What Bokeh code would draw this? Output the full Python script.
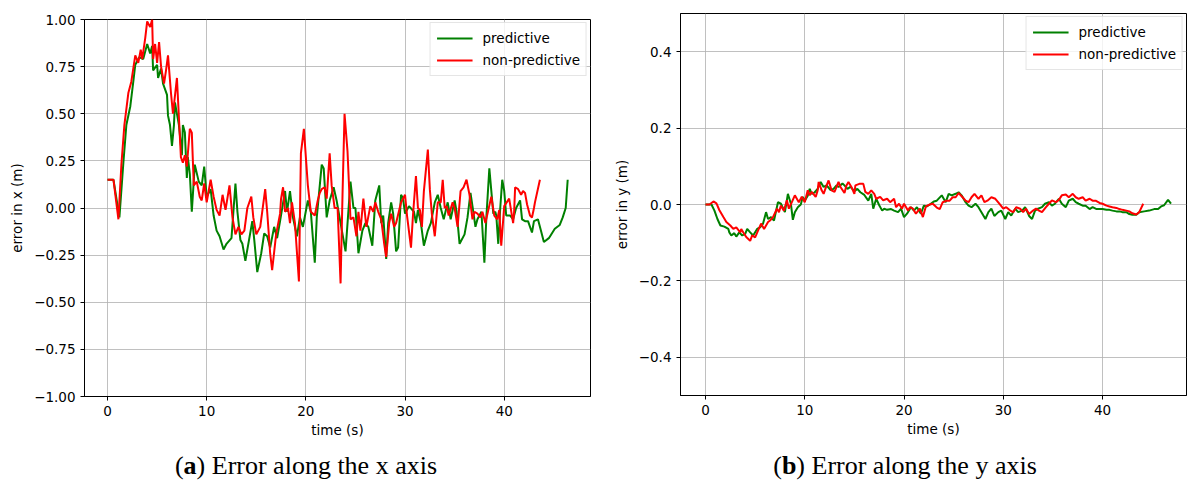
from bokeh.plotting import figure
from bokeh.models import Range1d, FixedTicker, Legend, LegendItem, Div, CustomJSTickFormatter
from bokeh.layouts import row, column
from bokeh.embed import file_html
from bokeh.resources import INLINE

# ---------------- data: error in x ----------------
t_x_pred = [0, 0.6, 1.2, 1.6, 1.9, 2.3, 2.6, 2.8, 3.2, 3.6, 4.0, 4.3, 4.5, 4.6, 5.0, 5.1, 5.4, 5.6, 6.0, 6.1,
            6.3, 6.5, 6.7, 6.8, 7.2, 7.5, 7.6, 7.8, 8.0, 8.1, 8.3, 8.5, 8.8, 9.2, 9.5, 9.75, 10.0, 10.4, 10.7, 11.0,
            11.3, 11.7, 12.0, 12.5, 12.9, 13.1, 13.4, 13.6, 13.9, 14.2, 14.6, 14.8, 15.1, 15.5, 15.8, 16.1, 16.4, 16.8, 17.1, 17.4,
            17.9, 18.1, 18.4, 18.7, 19.1, 19.4, 19.7, 20.2, 20.5, 20.9, 21.1, 21.6, 21.8, 22.1, 22.4, 22.8, 23.1, 23.5, 24.0, 24.5,
            24.8, 25.0, 25.3, 25.7, 26.0, 26.3, 26.7, 27.0, 27.4, 27.6, 27.8, 28.1, 28.3, 28.6, 28.8, 29.1, 29.3, 29.6, 29.8, 30.0,
            30.4, 30.9, 31.1, 31.3, 31.6, 31.9, 32.3, 32.6, 33.0, 33.3, 33.6, 33.9, 34.3, 34.6, 35.0, 35.2, 35.5, 36.0, 36.3, 36.6,
            36.8, 37.1, 37.3, 37.7, 38.0, 38.2, 38.5, 38.9, 39.1, 39.2, 39.4, 39.6, 39.8, 40.0, 40.2, 40.6, 40.9, 41.2, 41.6, 41.8,
            42.1, 42.4, 42.8, 43.0, 43.4, 43.7, 44.0, 44.5, 45.1, 45.6, 45.9, 46.2, 46.4]
ex_pred = [0.15, 0.15, -0.05, 0.24, 0.44, 0.54, 0.67, 0.76, 0.80, 0.79, 0.87, 0.82, 0.86, 0.73, 0.76, 0.69, 0.74, 0.66, 0.60, 0.49,
           0.44, 0.33, 0.44, 0.56, 0.44, 0.28, 0.44, 0.40, 0.16, 0.27, 0.18, -0.02, 0.23, 0.14, 0.12, 0.22, 0.06, 0.10, -0.04, -0.12,
           -0.15, -0.22, -0.19, -0.16, 0.13, -0.02, -0.17, -0.19, -0.28, -0.19, -0.07, -0.17, -0.34, -0.24, -0.135, -0.15, -0.21, -0.10, -0.16, -0.07,
           0.09, -0.02, 0.09, -0.05, -0.15, -0.05, -0.10, 0.04, -0.02, -0.29, -0.05, 0.23, 0.21, -0.05, 0.04, 0.11, 0.04, -0.08, -0.23, 0.14,
           0.0, 0.0, -0.24, -0.12, -0.08, -0.10, -0.20, 0.04, 0.12, -0.08, -0.04, -0.27, -0.08, 0.03, -0.03, -0.23, -0.21, 0.07, 0.05, -0.03,
           0.01, -0.02, -0.08, -0.01, -0.08, -0.20, -0.12, -0.08, 0.03, 0.07, 0.0, -0.06, 0.03, -0.06, 0.04, -0.02, -0.19, -0.14, -0.05, 0.08,
           0.01, -0.10, -0.06, -0.02, -0.29, -0.05, 0.21, -0.03, -0.02, -0.04, -0.19, 0.0, 0.15, 0.09, -0.04, -0.04, -0.06, 0.0, 0.04, -0.06,
           -0.07, -0.07, -0.13, -0.07, -0.06, -0.12, -0.18, -0.16, -0.11, -0.09, -0.05, 0.0, 0.15]

t_x_np = [0, 0.6, 1.1, 1.4, 1.7, 2.1, 2.4, 2.8, 3.1, 3.35, 3.5, 3.8, 4.0, 4.3, 4.5, 4.6, 4.8, 5.0, 5.2, 5.4,
          5.7, 5.9, 6.1, 6.4, 6.6, 7.0, 7.2, 7.4, 7.6, 7.8, 8.0, 8.3, 8.5, 8.7, 9.0, 9.3, 9.5, 9.75, 10.0, 10.4,
          10.7, 11.0, 11.3, 11.6, 11.9, 12.3, 12.6, 12.9, 13.2, 13.5, 13.8, 14.1, 14.5, 14.7, 15.0, 15.4, 15.9, 16.1, 16.4, 16.6,
          17.0, 17.4, 17.5, 17.7, 17.9, 18.2, 18.4, 18.6, 18.9, 19.3, 19.5, 19.8, 20.2, 20.5, 20.9, 21.2, 21.4, 21.6, 21.9, 22.1,
          22.4, 22.6, 22.9, 23.2, 23.5, 23.7, 23.9, 24.2, 24.5, 24.8, 25.1, 25.3, 25.5, 25.8, 26.1, 26.5, 26.8, 27.0, 27.3, 27.6,
          27.9, 28.1, 28.4, 28.6, 28.9, 29.1, 29.6, 30.0, 30.2, 30.6, 30.8, 31.1, 31.3, 31.5, 31.7, 31.9, 32.3, 32.5, 32.7, 33.0,
          33.3, 33.6, 33.8, 34.0, 34.2, 34.4, 34.8, 35.0, 35.3, 35.6, 35.9, 36.2, 36.5, 36.8, 37.0, 37.3, 37.6, 37.8, 38.1, 38.4,
          38.7, 39.0, 39.3, 39.5, 39.7, 40.0, 40.5, 40.9, 41.0, 41.1, 41.4, 41.7, 41.9, 42.1, 42.3, 42.6, 42.8, 43.0, 43.1, 43.6]
ex_np = [0.15, 0.15, -0.06, 0.23, 0.44, 0.61, 0.67, 0.81, 0.77, 0.84, 0.79, 0.90, 0.99, 0.96, 1.0, 0.79, 0.87, 0.77, 0.88, 0.75,
         0.66, 0.73, 0.81, 0.61, 0.50, 0.69, 0.48, 0.27, 0.24, 0.28, 0.22, 0.42, 0.40, 0.12, 0.14, 0.06, 0.04, 0.13, 0.03, 0.15,
         0.06, -0.01, -0.04, 0.07, -0.01, 0.12, -0.05, -0.14, -0.10, -0.14, -0.12, 0.0, 0.06, -0.05, -0.14, -0.10, 0.10, -0.02, -0.24, -0.33,
         -0.14, -0.03, 0.05, 0.11, -0.02, 0.0, -0.08, 0.03, -0.08, -0.39, 0.29, 0.42, 0.12, -0.02, -0.04, 0.04, 0.08, 0.10, 0.11, 0.05,
         0.29, 0.12, 0.0, 0.0, -0.40, 0.08, 0.50, 0.30, -0.06, -0.05, -0.15, -0.02, -0.12, 0.05, -0.10, 0.01, -0.02, 0.03, -0.02, -0.06,
         -0.19, -0.26, -0.08, -0.03, -0.10, -0.08, 0.03, 0.07, -0.04, -0.21, -0.04, 0.17, 0.0, -0.01, -0.10, 0.09, 0.31, 0.10, -0.03, -0.15,
         0.03, 0.03, 0.15, 0.0, 0.01, -0.04, 0.03, 0.0, -0.10, 0.09, 0.11, 0.15, 0.07, -0.06, -0.02, -0.03, -0.05, -0.02, -0.08, -0.01,
         0.06, -0.04, -0.06, -0.01, -0.20, 0.01, 0.05, -0.08, -0.02, 0.11, 0.10, 0.07, 0.09, 0.08, 0.02, -0.04, -0.05, 0.0, 0.03, 0.15]

# ---------------- data: error in y ----------------
t_y_pred = [0, 0.6, 0.9, 1.2, 1.5, 1.9, 2.3, 2.4, 2.6, 2.9, 3.1, 3.4, 3.7, 4.0, 4.2, 4.5, 4.8, 5.2, 5.5, 5.8,
            6.1, 6.3, 6.6, 6.9, 7.3, 7.6, 8.0, 8.3, 8.6, 8.8, 9.0, 9.3, 9.6, 9.8, 10.0, 10.3, 10.5, 10.7, 11.0, 11.3,
            11.6, 11.9, 12.2, 12.6, 12.9, 13.2, 13.4, 13.8, 14.0, 14.3, 14.6, 15.0, 15.3, 15.6, 16.0, 16.4, 16.7, 16.9, 17.2, 17.5,
            17.8, 18.0, 18.3, 18.7, 19.0, 19.4, 19.7, 20.0, 20.3, 20.7, 21.0, 21.3, 21.7, 22.0, 22.3, 22.6, 23.0, 23.3, 23.8, 24.2,
            24.5, 24.8, 25.2, 25.5, 25.8, 26.2, 26.5, 26.8, 27.2, 27.5, 27.8, 28.2, 28.5, 28.8, 29.1, 29.5, 29.8, 30.2, 30.5, 30.8,
            31.2, 31.5, 31.9, 32.2, 32.6, 32.9, 33.2, 33.5, 33.9, 34.2, 34.6, 34.9, 35.2, 35.6, 35.9, 36.3, 36.6, 37.0, 37.3, 37.6,
            38.0, 38.3, 38.7, 39.0, 39.4, 39.7, 40.0, 40.4, 40.7, 41.0, 41.4, 41.7, 42.0, 42.4, 42.7, 43.0, 43.4, 43.7, 44.2, 44.7,
            45.2, 45.6, 45.9, 46.2, 46.6, 46.9]
ey_pred = [0, 0, -0.016, -0.038, -0.055, -0.058, -0.064, -0.073, -0.081, -0.075, -0.084, -0.073, -0.081, -0.077, -0.064, -0.073, -0.081, -0.064, -0.06, -0.05,
           -0.02, -0.038, -0.033, -0.042, 0.006, 0.002, -0.02, 0.028, 0.002, -0.04, -0.02, -0.007, 0.0, 0.02, 0.01, 0.023, 0.041, 0.028, 0.032, 0.041,
           0.059, 0.046, 0.05, 0.038, 0.041, 0.05, 0.046, 0.055, 0.05, 0.041, 0.046, 0.035, 0.041, 0.032, 0.025, 0.01, 0.028, -0.011, 0.015, -0.002,
           -0.016, -0.011, -0.014, -0.012, -0.016, -0.02, -0.011, -0.033, -0.024, -0.007, -0.016, -0.007, -0.024, -0.003, -0.005, 0.0, 0.008, 0.01, 0.024, 0.006,
           0.028, 0.024, 0.028, 0.032, 0.024, 0.006, -0.003, -0.007, 0.002, -0.007, -0.02, -0.038, -0.02, -0.011, -0.03, -0.02, -0.016, -0.038, -0.02, -0.029,
           -0.011, -0.02, -0.016, -0.007, -0.03, -0.038, -0.016, -0.011, -0.007, 0.002, 0.006, -0.003, 0.002, 0.015, 0.002, -0.007, 0.01, 0.015, 0.006, 0.002,
           -0.003, -0.003, -0.012, -0.007, -0.012, -0.012, -0.012, -0.014, -0.014, -0.016, -0.018, -0.018, -0.02, -0.02, -0.025, -0.027, -0.027, -0.02, -0.018, -0.016,
           -0.012, -0.012, -0.005, -0.002, 0.012, 0.002]

t_y_np = [0, 0.4, 0.8, 1.1, 1.4, 1.8, 2.1, 2.5, 2.8, 3.1, 3.5, 3.6, 3.9, 4.1, 4.5, 4.7, 5.0, 5.3, 5.6, 5.9,
          6.3, 6.5, 6.8, 7.2, 7.4, 7.6, 7.9, 8.2, 8.4, 8.7, 9.0, 9.4, 9.7, 10.0, 10.3, 10.5, 10.7, 11.1, 11.3, 11.4,
          11.7, 11.9, 12.2, 12.4, 12.7, 13.0, 13.4, 13.6, 14.0, 14.2, 14.4, 14.7, 15.0, 15.1, 15.5, 15.9, 16.1, 16.4, 16.7, 17.0,
          17.2, 17.6, 17.9, 18.3, 18.6, 19.0, 19.2, 19.5, 19.8, 20.0, 20.4, 20.6, 20.9, 21.2, 21.6, 21.9, 22.2, 22.6, 22.9, 23.3,
          23.6, 23.9, 24.3, 24.6, 24.9, 25.2, 25.5, 25.9, 26.2, 26.5, 26.8, 27.1, 27.5, 27.8, 28.1, 28.4, 28.8, 29.2, 29.6, 30.0,
          30.3, 30.7, 31.0, 31.3, 31.7, 32.0, 32.3, 32.6, 33.0, 33.3, 33.6, 33.9, 34.3, 34.6, 34.9, 35.3, 35.6, 35.9, 36.3, 36.6,
          37.0, 37.3, 37.6, 38.0, 38.3, 38.7, 39.0, 39.3, 39.7, 40.0, 40.4, 40.7, 41.0, 41.4, 41.7, 42.0, 42.4, 42.7, 43.0, 43.4,
          43.7, 44.1]
ey_np = [0, 0, 0.008, 0.003, -0.015, -0.033, -0.046, -0.055, -0.064, -0.06, -0.073, -0.064, -0.077, -0.085, -0.095, -0.081, -0.086, -0.068, -0.05, -0.064,
         -0.046, -0.042, -0.033, -0.011, -0.02, -0.003, -0.016, 0.011, -0.011, 0.006, 0.024, 0.006, 0.02, 0.006, 0.037, 0.024, 0.033, 0.02, 0.037, 0.059,
         0.037, 0.028, 0.05, 0.063, 0.037, 0.033, 0.059, 0.046, 0.03, 0.05, 0.059, 0.046, 0.028, 0.05, 0.054, 0.054, 0.033, 0.028, 0.037, 0.028,
         0.015, 0.02, 0.011, 0.015, 0.006, 0.015, -0.007, 0.002, -0.011, 0.002, -0.016, -0.007, -0.011, -0.024, -0.011, -0.033, -0.005, 0.0, 0.002, -0.008,
         -0.012, 0.006, 0.01, 0.01, 0.019, 0.019, 0.03, 0.019, 0.01, 0.006, 0.019, 0.028, 0.015, 0.024, 0.006, 0.01, 0.019, 0.015, 0.002, -0.011,
         -0.007, -0.016, -0.02, -0.007, -0.011, -0.02, -0.011, -0.025, -0.016, -0.011, -0.016, -0.02, -0.007, 0.002, 0.011, 0.006, 0.012, 0.024, 0.026, 0.019,
         0.028, 0.019, 0.015, 0.019, 0.01, 0.015, 0.01, 0.01, 0.004, 0.002, -0.003, -0.005, -0.007, -0.009, -0.012, -0.014, -0.016, -0.018, -0.023, -0.026,
         -0.02, 0.002]

x_ticks = [0, 10, 20, 30, 40]
y_ticks_x = [-1.0, -0.75, -0.5, -0.25, 0.0, 0.25, 0.5, 0.75, 1.0]
y_ticks_y = [-0.4, -0.2, 0.0, 0.2, 0.4]
series_names = ["predictive", "non-predictive"]
series_colors = ["#008000", "#ff0000"]

FONT = "DejaVu Sans"


def make_fig(width, height, xr, yr, yticks, ydigits, ylabel, borders, t1, v1, t2, v2):
    p = figure(width=width, height=height, x_range=Range1d(*xr), y_range=Range1d(*yr),
               output_backend="svg", toolbar_location=None,
               min_border_left=borders[0], min_border_right=borders[1],
               min_border_top=borders[2], min_border_bottom=borders[3])
    p.outline_line_color = "black"
    p.outline_line_width = 1
    p.outline_line_alpha = 1
    p.background_fill_color = "white"
    p.border_fill_color = "white"
    for ax in (p.xaxis[0], p.yaxis[0]):
        ax.axis_line_color = "black"
        ax.major_tick_line_color = "black"
        ax.major_tick_out = 4
        ax.major_tick_in = 0
        ax.minor_tick_line_color = None
        ax.major_label_text_font = FONT
        ax.major_label_text_font_size = "13.5px"
        ax.major_label_text_color = "black"
        ax.axis_label_text_font = FONT
        ax.axis_label_text_font_size = "13.5px"
        ax.axis_label_text_font_style = "normal"
        ax.axis_label_text_color = "black"
    p.xaxis.ticker = FixedTicker(ticks=x_ticks)
    p.yaxis.ticker = FixedTicker(ticks=yticks)
    p.xaxis.formatter = CustomJSTickFormatter(code="return (tick < 0 ? '\u2212' : '') + Math.abs(tick).toFixed(0);")
    p.yaxis.formatter = CustomJSTickFormatter(
        code="return (tick < -1e-9 ? '\u2212' : '') + Math.abs(tick).toFixed(%d);" % ydigits)
    p.xaxis.axis_label = "time (s)"
    p.yaxis.axis_label = ylabel
    p.xaxis.axis_label_standoff = 3
    p.yaxis.axis_label_standoff = 6
    p.xgrid.ticker = FixedTicker(ticks=x_ticks)
    p.ygrid.ticker = FixedTicker(ticks=yticks)
    for g in (p.xgrid[0], p.ygrid[0]):
        g.grid_line_color = "#b0b0b0"
        g.grid_line_alpha = 0.8
        g.grid_line_width = 1

    r1 = p.line(t1, v1, line_color=series_colors[0], line_width=2)
    r2 = p.line(t2, v2, line_color=series_colors[1], line_width=2)
    legend = Legend(items=[LegendItem(label=series_names[0], renderers=[r1]),
                           LegendItem(label=series_names[1], renderers=[r2])],
                    location="top_right")
    legend.label_text_font = FONT
    legend.label_text_font_size = "13.5px"
    legend.label_text_color = "black"
    legend.border_line_color = "#cccccc"
    legend.border_line_width = 1
    legend.background_fill_color = "white"
    legend.background_fill_alpha = 0.8
    legend.padding = 6
    legend.margin = 3
    legend.spacing = 4
    legend.glyph_width = 36
    legend.glyph_height = 18
    legend.label_height = 18
    legend.label_standoff = 10
    p.add_layout(legend)
    return p


p1 = make_fig(600, 448, (-2.32, 48.7), (-1.0, 1.0), y_ticks_x, 2, "error in x (m)",
              (84, 10, 19, 52), t_x_pred, ex_pred, t_x_np, ex_np)
p2 = make_fig(587, 448, (-2.52, 48.46), (-0.5, 0.5), y_ticks_y, 1, "error in y (m)",
              (80, 1, 13, 53), t_y_pred, ey_pred, t_y_np, ey_np)

cap_style = ("font-family:'Liberation Serif',serif;font-size:26px;color:black;line-height:36px;"
             "white-space:nowrap;box-sizing:border-box;text-align:center;")
d1 = Div(text='<div style="%s width:600px;padding-left:12px;">(<b>a</b>) Error along the x axis</div>' % cap_style,
         width=600, height=36, margin=(0, 0, 0, 0))
d2 = Div(text='<div style="%s width:587px;padding-left:23px;">(<b>b</b>) Error along the y axis</div>' % cap_style,
         width=587, height=36, margin=(0, 0, 0, 0))

layout = row(column(p1, d1, spacing=0), column(p2, d2, spacing=0), spacing=0)

open("out.html", "w").write(file_html(layout, INLINE))
